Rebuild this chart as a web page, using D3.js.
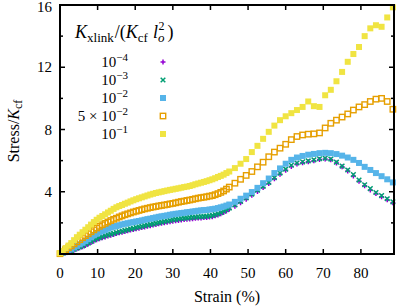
<!DOCTYPE html>
<html>
<head>
<meta charset="utf-8">
<script src="https://cdn.jsdelivr.net/npm/d3@7"></script>
<style>
  body { margin: 0; background: #fff; }
  svg { display: block; }
</style>
</head>
<body>
<svg id="chart"></svg>
<script>
(function () {
  'use strict';

  // strain (%) at which every series is sampled (denser at small strain)
  const strain = [0, 0.75, 1.5, 2.25, 3, 3.75, 4.5, 5.25, 6, 6.75,
    7.5, 8.25, 9, 9.75, 10.5, 11.25, 12, 12.75, 13.5, 14.25,
    15, 15.75, 16.5, 17.25, 18, 18.75, 19.5, 20.25, 21, 21.75,
    22.5, 23.25, 24, 24.75, 25.5, 26.25, 27, 27.75, 28.5, 29.25,
    30, 30.75, 31.5, 32.25, 33, 33.75, 34.5, 35.25, 36, 36.75,
    37.5, 38.25, 39, 39.75, 40.5, 41.25, 42, 42.75, 43.5, 44.25, 45,
    46.5, 48, 49.5, 51, 52.5, 54, 55.5, 57, 58.5, 60, 61.5, 63, 64.5, 66, 67.5,
    69, 70.5, 72, 73.5, 75, 76.5, 78, 79.5, 81, 82.5, 84, 85.5, 87, 88.5];

  // stress / K_cf for each crosslinker stiffness
  const s1e4 = [0.0, 0.04, 0.08, 0.13, 0.19, 0.26, 0.33, 0.4, 0.47, 0.55,
    0.64, 0.74, 0.83, 0.91, 0.98, 1.04, 1.1, 1.16, 1.21, 1.26,
    1.31, 1.36, 1.4, 1.45, 1.49, 1.54, 1.58, 1.62, 1.66, 1.7,
    1.74, 1.78, 1.82, 1.86, 1.9, 1.94, 1.97, 2.01, 2.04, 2.08,
    2.11, 2.14, 2.16, 2.19, 2.21, 2.23, 2.25, 2.27, 2.29, 2.31,
    2.32, 2.34, 2.35, 2.37, 2.4, 2.45, 2.5, 2.58, 2.67, 2.77, 2.87,
    3.07, 3.3, 3.52, 3.77, 4.02, 4.28, 4.53, 4.83, 5.12, 5.38, 5.62, 5.78, 5.86, 5.93, 6.0,
    6.07, 6.1, 6.05, 5.85, 5.6, 5.33, 5.02, 4.68, 4.38, 4.12, 3.88, 3.68, 3.48, 3.3];
  const s1e3 = [0.0, 0.05, 0.1, 0.16, 0.22, 0.3, 0.38, 0.45, 0.52, 0.61,
    0.7, 0.8, 0.9, 0.98, 1.05, 1.11, 1.17, 1.23, 1.28, 1.33,
    1.38, 1.43, 1.47, 1.52, 1.56, 1.61, 1.65, 1.7, 1.74, 1.78,
    1.82, 1.86, 1.9, 1.94, 1.98, 2.02, 2.05, 2.09, 2.12, 2.16,
    2.2, 2.23, 2.25, 2.28, 2.3, 2.32, 2.34, 2.36, 2.37, 2.39,
    2.4, 2.42, 2.43, 2.45, 2.48, 2.53, 2.58, 2.66, 2.75, 2.85, 2.95,
    3.15, 3.38, 3.6, 3.85, 4.1, 4.35, 4.6, 4.9, 5.2, 5.45, 5.7, 5.85, 5.92, 5.98, 6.05,
    6.12, 6.15, 6.1, 5.9, 5.65, 5.4, 5.1, 4.75, 4.45, 4.2, 3.95, 3.75, 3.55, 3.35];
  const s1e2 = [0.0, 0.07, 0.15, 0.24, 0.33, 0.42, 0.52, 0.62, 0.72, 0.83,
    0.95, 1.07, 1.2, 1.3, 1.4, 1.48, 1.55, 1.63, 1.7, 1.75,
    1.8, 1.85, 1.9, 1.94, 1.98, 2.02, 2.05, 2.09, 2.12, 2.16,
    2.2, 2.24, 2.27, 2.31, 2.35, 2.39, 2.42, 2.45, 2.48, 2.52,
    2.55, 2.58, 2.6, 2.63, 2.65, 2.68, 2.7, 2.73, 2.75, 2.78,
    2.8, 2.82, 2.83, 2.86, 2.88, 2.91, 2.95, 3.0, 3.05, 3.11, 3.18,
    3.35, 3.55, 3.75, 3.98, 4.25, 4.55, 4.85, 5.2, 5.5, 5.8, 6.05, 6.2, 6.3, 6.38, 6.43,
    6.48, 6.5, 6.48, 6.42, 6.32, 6.2, 6.05, 5.85, 5.6, 5.4, 5.2, 5.0, 4.8, 4.6];
  const s5e2 = [0.02, 0.15, 0.28, 0.4, 0.52, 0.65, 0.78, 0.92, 1.05, 1.18,
    1.3, 1.43, 1.55, 1.67, 1.78, 1.88, 1.97, 2.06, 2.15, 2.23,
    2.3, 2.38, 2.45, 2.52, 2.58, 2.64, 2.7, 2.75, 2.8, 2.85,
    2.9, 2.94, 2.98, 3.02, 3.05, 3.09, 3.12, 3.15, 3.18, 3.22,
    3.25, 3.29, 3.33, 3.37, 3.4, 3.44, 3.47, 3.51, 3.55, 3.59,
    3.62, 3.65, 3.68, 3.72, 3.75, 3.81, 3.88, 3.96, 4.05, 4.17, 4.3,
    4.55, 4.8, 5.05, 5.3, 5.6, 5.9, 6.25, 6.55, 6.8, 7.05, 7.35, 7.55, 7.65, 7.7, 7.72,
    7.78, 8.1, 8.4, 8.6, 8.8, 9.0, 9.25, 9.45, 9.6, 9.8, 9.95, 10.0, 9.8, 9.3];
  const s1e1 = [0.05, 0.2, 0.38, 0.54, 0.7, 0.89, 1.08, 1.24, 1.4, 1.56,
    1.72, 1.89, 2.05, 2.2, 2.33, 2.44, 2.55, 2.67, 2.78, 2.9,
    3.0, 3.08, 3.15, 3.23, 3.3, 3.38, 3.45, 3.52, 3.58, 3.64,
    3.7, 3.76, 3.82, 3.87, 3.92, 3.96, 4.0, 4.04, 4.08, 4.12,
    4.15, 4.19, 4.22, 4.26, 4.3, 4.33, 4.37, 4.42, 4.48, 4.53,
    4.58, 4.63, 4.68, 4.74, 4.8, 4.87, 4.95, 5.02, 5.1, 5.2, 5.3,
    5.52, 5.8, 6.1, 6.55, 6.95, 7.4, 7.85, 8.25, 8.6, 8.85, 9.05, 9.25, 9.45, 9.8, 9.5,
    9.45, 10.2, 10.55, 11.1, 11.7, 12.35, 12.85, 13.3, 14.0, 14.5, 14.7, 14.6, 15.2, 15.85];

  const seriesLabels = [
    ["10", "\u22124"],
    ["10", "\u22123"],
    ["10", "\u22122"],
    ["5 \u00d7 10", "\u22122"],
    ["10", "\u22121"]
  ];
  const seriesValues = [s1e4, s1e3, s1e2, s5e2, s1e1];
  const colors = ["#9400d3", "#009e73", "#56b4e9", "#e69f00", "#f0e442"];
  const shapes = ["plus", "cross", "square", "open", "square"];

  const xTicks = [0, 10, 20, 30, 40, 50, 60, 70, 80];
  const yTicks = [4, 8, 12, 16];
  const yMinor = [2, 6, 10, 14];

  const W = 399, H = 307;
  const margin = { top: 5, right: 5, bottom: 53, left: 60 };

  const svg = d3.select("#chart").attr("width", W).attr("height", H)
    .attr("font-family", "'Liberation Serif', 'Times New Roman', 'DejaVu Serif', serif");

  const x = d3.scaleLinear().domain([0, 88.8]).range([margin.left, W - margin.right]);
  const y = d3.scaleLinear().domain([0, 16]).range([H - margin.bottom, margin.top]);

  function drawMarker(g, shape, color, px, py) {
    if (shape === "plus") {
      g.append("path").attr("d", `M${px - 2.5},${py}h5M${px},${py - 2.5}v5`)
        .attr("stroke", color).attr("stroke-width", 1.5).attr("fill", "none");
    } else if (shape === "cross") {
      g.append("path").attr("d", `M${px - 2.3},${py - 2.3}l4.6,4.6M${px - 2.3},${py + 2.3}l4.6,-4.6`)
        .attr("stroke", color).attr("stroke-width", 1.5).attr("fill", "none");
    } else if (shape === "square") {
      g.append("rect").attr("x", px - 3).attr("y", py - 3).attr("width", 6).attr("height", 6)
        .attr("fill", color);
    } else {
      g.append("rect").attr("x", px - 2.7).attr("y", py - 2.7).attr("width", 5.4).attr("height", 5.4)
        .attr("fill", "none").attr("stroke", color).attr("stroke-width", 1.4);
    }
  }

  // data markers
  const plot = svg.append("g");
  seriesValues.forEach(function (vals, i) {
    const g = plot.append("g");
    vals.forEach(function (v, j) {
      drawMarker(g, shapes[i], colors[i], x(strain[j]), y(v));
    });
  });

  // frame and ticks (mirrored, inward)
  const axes = svg.append("g");
  const x0 = x.range()[0], x1 = x.range()[1], y0 = y.range()[0], y1 = y.range()[1];

  xTicks.slice(1).forEach(function (t) {
    axes.append("line").attr("x1", x(t)).attr("x2", x(t)).attr("y1", y0).attr("y2", y0 - 5);
    axes.append("line").attr("x1", x(t)).attr("x2", x(t)).attr("y1", y1).attr("y2", y1 + 5);
  });
  yTicks.forEach(function (t) {
    axes.append("line").attr("x1", x0).attr("x2", x0 + 5).attr("y1", y(t)).attr("y2", y(t));
    axes.append("line").attr("x1", x1).attr("x2", x1 - 5).attr("y1", y(t)).attr("y2", y(t));
  });
  yMinor.forEach(function (t) {
    axes.append("line").attr("x1", x0).attr("x2", x0 + 3).attr("y1", y(t)).attr("y2", y(t));
    axes.append("line").attr("x1", x1).attr("x2", x1 - 3).attr("y1", y(t)).attr("y2", y(t));
  });
  axes.selectAll("line").attr("stroke", "#000").attr("stroke-width", 1.5);

  axes.append("rect")
    .attr("x", x0).attr("y", y1).attr("width", x1 - x0).attr("height", y0 - y1)
    .attr("fill", "none").attr("stroke", "#000").attr("stroke-width", 2);

  // tick labels
  svg.append("g").selectAll("text").data(xTicks).join("text")
    .attr("x", d => x(d)).attr("y", y0 + 24)
    .attr("text-anchor", "middle").attr("font-size", 15)
    .text(d => d);
  svg.append("g").selectAll("text").data(yTicks).join("text")
    .attr("x", x0 - 8).attr("y", d => Math.max(y(d) + 5, 12))
    .attr("text-anchor", "end").attr("font-size", 15)
    .text(d => d);

  // axis titles
  svg.append("text").attr("x", (x0 + x1) / 2).attr("y", 302)
    .attr("text-anchor", "middle").attr("font-size", 16)
    .text("Strain (%)");

  const yl = svg.append("text")
    .attr("transform", "translate(19,131) rotate(-90)")
    .attr("text-anchor", "middle").attr("font-size", 16);
  yl.append("tspan").text("Stress/");
  yl.append("tspan").attr("font-style", "italic").text("K");
  yl.append("tspan").attr("font-size", 12).attr("dy", 3).text("cf");

  // legend
  const lt = svg.append("text").attr("x", 75).attr("y", 38).attr("font-size", 18);
  lt.append("tspan").attr("font-style", "italic").text("K");
  lt.append("tspan").attr("font-size", 13).attr("dy", 4).text("xlink");
  lt.append("tspan").attr("dy", -4).attr("dx", 1).text("/(");
  lt.append("tspan").attr("font-style", "italic").text("K");
  lt.append("tspan").attr("font-size", 13).attr("dy", 4).text("cf");
  lt.append("tspan").attr("dy", -4).attr("dx", 5).attr("font-style", "italic").text("l");
  lt.append("tspan").attr("font-size", 13).attr("font-style", "italic").attr("dy", 4).text("o");
  lt.append("tspan").attr("font-size", 12).attr("dx", -6).attr("dy", -12).text("2");
  lt.append("tspan").attr("dy", 8).attr("dx", 3).text(")");

  const legendY = [62, 80, 98, 116, 134];
  seriesLabels.forEach(function (parts, i) {
    const t = svg.append("text").attr("x", 128).attr("y", legendY[i] + 5)
      .attr("text-anchor", "end").attr("font-size", 15);
    t.append("tspan").text(parts[0]);
    t.append("tspan").attr("font-size", 11).attr("dy", -6).text(parts[1]);
    drawMarker(svg.append("g"), shapes[i], colors[i], 163, legendY[i]);
  });
})();
</script>
</body>
</html>
